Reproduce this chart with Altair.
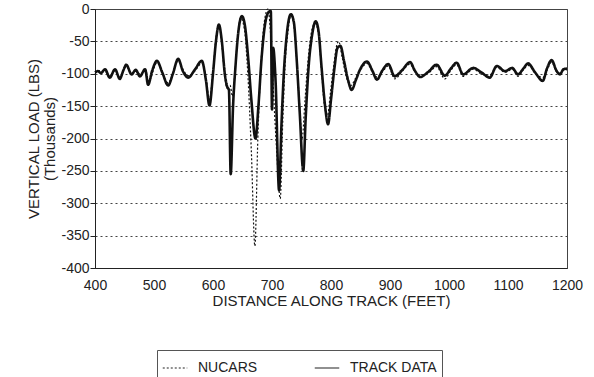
import altair as alt
import pandas as pd

# ---- data ----
track_ft = [400, 405, 410, 417, 425, 434, 442, 448, 453, 462, 469, 476, 485, 490, 497,
            505, 514, 524, 532, 541, 549, 558, 569, 581, 588, 594, 600, 605, 610, 615,
            620, 624, 627, 630, 634, 638, 643, 649, 654, 660, 665, 672, 677, 682, 688,
            694, 698, 700, 702, 706, 712, 716, 720, 725, 732, 737, 742, 747, 753, 757,
            762, 768, 774, 779, 784, 790, 795, 800, 806, 811, 816, 822, 829, 835, 842,
            850, 861, 870, 878, 887, 897, 908, 920, 934, 942, 951, 965, 979, 993, 1003,
            1013, 1024, 1041, 1055, 1069, 1081, 1095, 1107, 1117, 1126, 1134, 1146, 1159,
            1166, 1174, 1182, 1188, 1194, 1200]
track_load = [-98, -96, -99, -93, -106, -93, -108, -95, -86, -101, -94, -104, -93, -117, -95,
              -80, -98, -118, -100, -77, -96, -106, -94, -80, -110, -149, -100, -50, -24, -50,
              -100, -120, -125, -255, -150, -90, -35, -11, -25, -80, -140, -200, -150, -80, -25,
              -5, -3, -155, -60, -110, -280, -180, -100, -40, -8, -20, -80, -160, -250, -170,
              -90, -40, -19, -35, -90, -150, -178, -140, -90, -60, -57, -80, -110, -125, -110,
              -92, -81, -95, -109, -95, -85, -104, -95, -82, -95, -105, -97, -86, -103, -92,
              -83, -101, -91, -98, -106, -88, -96, -91, -101, -92, -84, -98, -111,
              -92, -79, -95, -101, -93, -92]

nucars_ft = [400, 408, 417, 425, 434, 442, 453, 462, 470, 478, 486, 491, 505, 524, 541,
             550, 558, 569, 581, 588, 594, 600, 605, 610, 615, 620, 624, 629, 633, 637,
             642, 647, 653, 659, 665, 671, 676, 681, 687, 693, 697, 702, 708, 714, 718,
             722, 727, 732, 737, 742, 747, 751, 756, 761, 767, 773, 779, 784, 789, 794,
             799, 805, 810, 813, 819, 826, 834, 841, 850, 861, 870, 878, 887, 897, 908,
             920, 934, 942, 951, 965, 979, 993, 1003, 1013, 1024, 1041, 1055, 1069, 1081,
             1095, 1107, 1117, 1126, 1134, 1146, 1159, 1166, 1174, 1182, 1188, 1194, 1200]
nucars_load = [-100, -95, -96, -104, -95, -105, -89, -100, -96, -102, -95, -112, -83, -114, -80,
               -95, -103, -96, -84, -105, -140, -95, -45, -25, -55, -105, -122, -118, -135, -100,
               -40, -14, -30, -100, -220, -366, -200, -90, -20, 0, -30, -120, -220, -293, -180,
               -90, -35, -10, -25, -80, -150, -200, -140, -80, -35, -22, -40, -95, -150, -165,
               -130, -85, -55, -50, -75, -105, -118, -108, -94, -84, -97, -105, -97, -88, -108,
               -97, -85, -97, -102, -99, -89, -108, -95, -86, -104, -93, -100, -102, -90,
               -98, -93, -104, -94, -87, -99, -106, -95, -82, -97, -99, -95, -94]

series_names = ["NUCARS", "TRACK DATA"]
x_ticks = [400, 500, 600, 700, 800, 900, 1000, 1100, 1200]
y_ticks = [0, -50, -100, -150, -200, -250, -300, -350, -400]

track_df = pd.DataFrame({"ft": track_ft, "load": track_load, "series": series_names[1]})
nucars_df = pd.DataFrame({"ft": nucars_ft, "load": nucars_load, "series": series_names[0]})

FONT = "Liberation Sans"

x_enc = alt.X("ft:Q", scale=alt.Scale(domain=[400, 1200], nice=False),
              axis=alt.Axis(values=x_ticks, format="d", title="DISTANCE ALONG TRACK (FEET)",
                            grid=False, ticks=False, labelPadding=10, titlePadding=1,
                            labelFontSize=14, titleFontSize=15, labelFont=FONT, titleFont=FONT,
                            titleFontWeight="normal", domainColor="#222", labelColor="#222",
                            titleColor="#222", labelFlush=False))
y_enc = alt.Y("load:Q", scale=alt.Scale(domain=[-400, 0], nice=False),
              axis=alt.Axis(values=y_ticks, labelExpr="'' + datum.value",
                            title=["VERTICAL LOAD (LBS)", "(Thousands)"],
                            grid=True, gridDash=[2, 3], gridColor="#444", gridWidth=1,
                            tickSize=5, tickColor="#222", labelPadding=1, titlePadding=3,
                            labelFontSize=14, titleFontSize=15, labelFont=FONT, titleFont=FONT,
                            titleFontWeight="normal", domainColor="#222", labelColor="#222",
                            titleColor="#222", titleLineHeight=16))

dash_scale = alt.Scale(domain=series_names, range=[[2, 2], [1, 0]])
legend = alt.Legend(title=None, orient="none", legendX=62, legendY=341, direction="horizontal",
                    symbolType="stroke", symbolSize=600, symbolStrokeWidth=1.2,
                    symbolStrokeColor="#222", labelFontSize=14, labelFont=FONT,
                    labelColor="#222", strokeColor="#555", fillColor="white", padding=5,
                    columnPadding=54, labelOffset=10)

track = alt.Chart(track_df).mark_line(color="#111", strokeWidth=2.6, interpolate="monotone").encode(
    x=x_enc, y=y_enc,
    strokeDash=alt.StrokeDash("series:N", scale=dash_scale, legend=legend),
)
nucars = alt.Chart(nucars_df).mark_line(color="#111", strokeWidth=1.2, interpolate="monotone").encode(
    x=x_enc, y=y_enc,
    strokeDash=alt.StrokeDash("series:N", scale=dash_scale, legend=legend),
)

chart = alt.layer(track, nucars).properties(
    width=472, height=259,
    autosize=alt.AutoSizeParams(type="none"),
    padding={"left": 95, "top": 9, "right": 27, "bottom": 109},
    background="white",
).configure_view(stroke="#444", strokeWidth=1)

chart.save("out.html", embed_options={"renderer": "svg", "actions": False})
